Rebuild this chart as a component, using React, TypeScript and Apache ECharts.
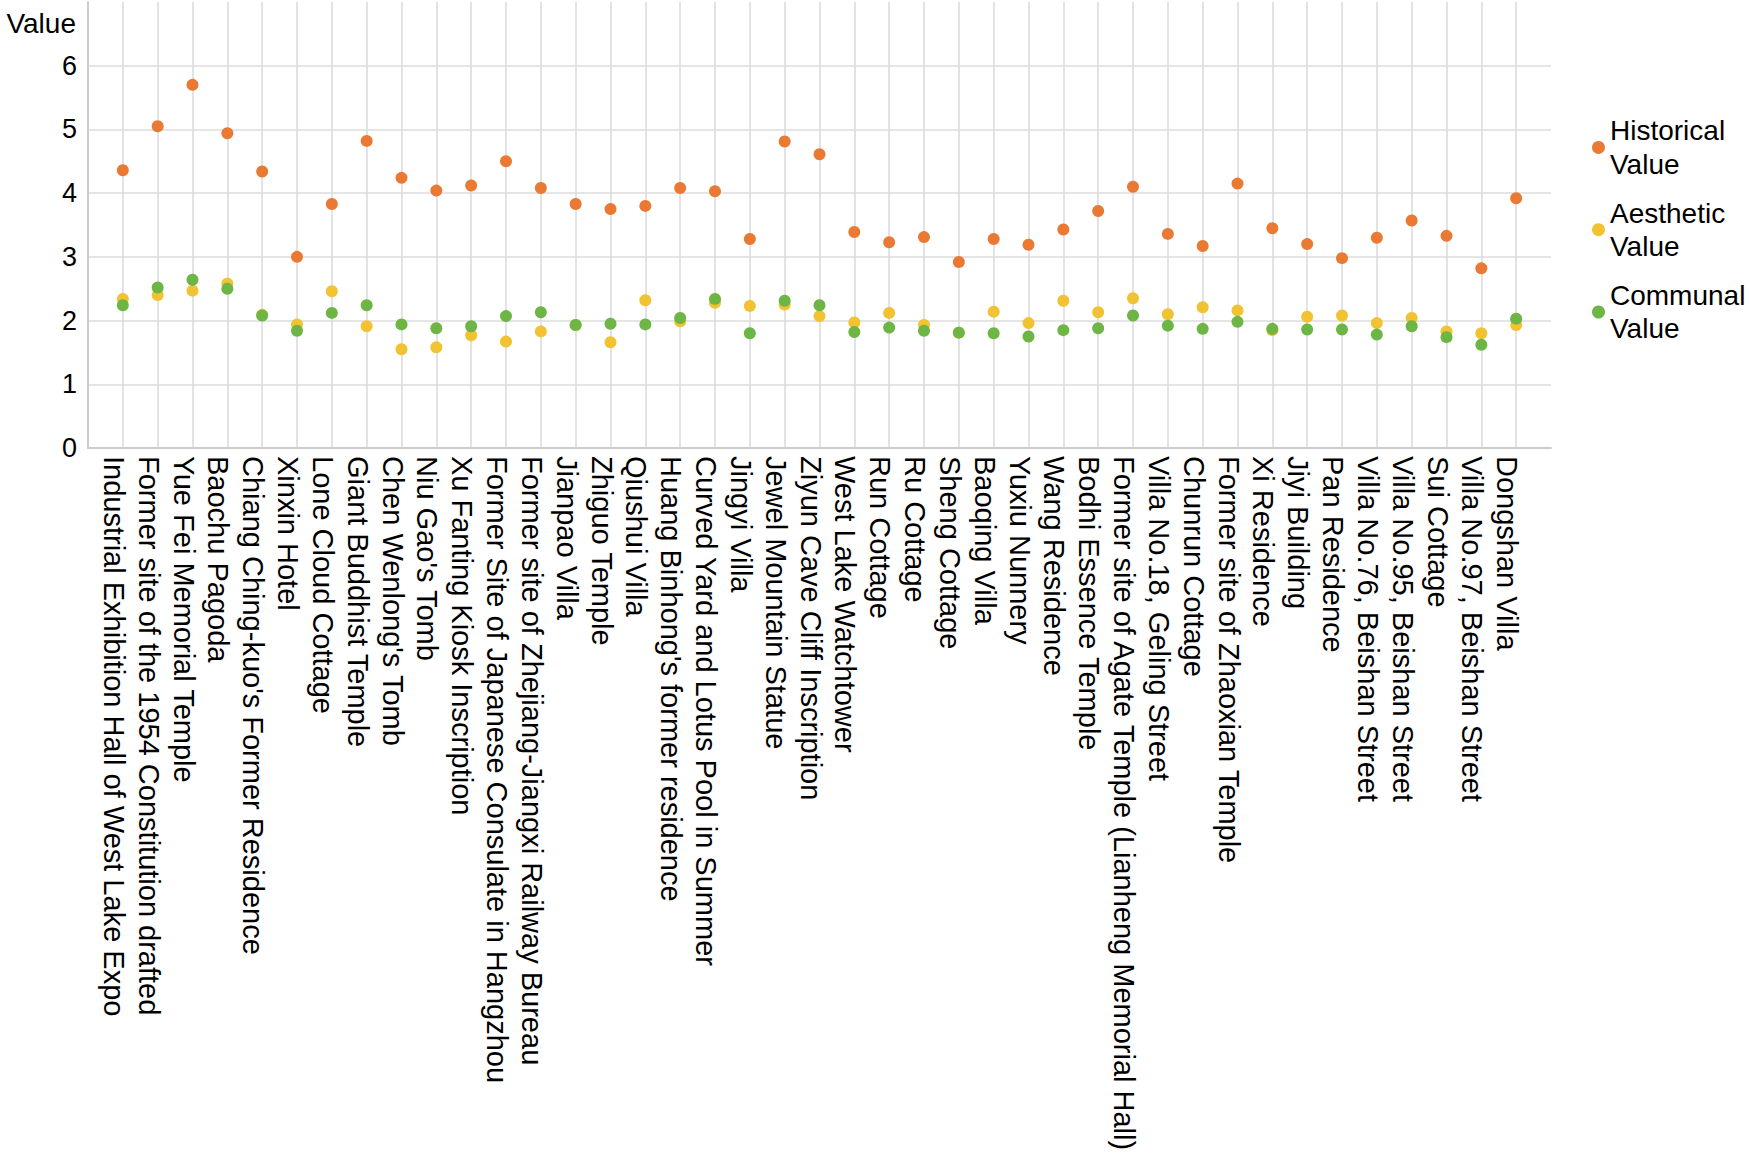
import React, { useEffect, useRef } from "react";
import * as echarts from "echarts";

const categories: string[] = [
  "Industrial Exhibition Hall of West Lake Expo",
  "Former site of the 1954 Constitution drafted",
  "Yue Fei Memorial Temple",
  "Baochu Pagoda",
  "Chiang Ching-kuo's Former Residence",
  "Xinxin Hotel",
  "Lone Cloud Cottage",
  "Giant Buddhist Temple",
  "Chen Wenlong's Tomb",
  "Niu Gao's Tomb",
  "Xu Fanting Kiosk Inscription",
  "Former Site of Japanese Consulate in Hangzhou",
  "Former site of Zhejiang-Jiangxi Railway Bureau",
  "Jianpao Villa",
  "Zhiguo Temple",
  "Qiushui Villa",
  "Huang Binhong's former residence",
  "Curved Yard and Lotus Pool in Summer",
  "Jingyi Villa",
  "Jewel Mountain Statue",
  "Ziyun Cave Cliff Inscription",
  "West Lake Watchtower",
  "Run Cottage",
  "Ru Cottage",
  "Sheng Cottage",
  "Baoqing Villa",
  "Yuxiu Nunnery",
  "Wang Residence",
  "Bodhi Essence Temple",
  "Former site of Agate Temple (Lianheng Memorial Hall)",
  "Villa No.18, Geling Street",
  "Chunrun Cottage",
  "Former site of Zhaoxian Temple",
  "Xi Residence",
  "Jiyi Building",
  "Pan Residence",
  "Villa No.76, Beishan Street",
  "Villa No.95, Beishan Street",
  "Sui Cottage",
  "Villa No.97, Beishan Street",
  "Dongshan Villa",
];

const historicalValues: number[] = [
  4.36, 5.05, 5.7, 4.94, 4.34, 3.0, 3.83, 4.82, 4.24, 4.04,
  4.12, 4.5, 4.08, 3.83, 3.75, 3.8, 4.08, 4.03, 3.28, 4.81,
  4.61, 3.39, 3.23, 3.31, 2.92, 3.28, 3.19, 3.43, 3.72, 4.1,
  3.36, 3.17, 4.15, 3.45, 3.2, 2.98, 3.3, 3.57, 3.33, 2.82, 3.92,
];

const aestheticValues: number[] = [
  2.34, 2.4, 2.47, 2.58, 2.09, 1.94, 2.46, 1.91, 1.55, 1.58,
  1.77, 1.67, 1.83, 1.93, 1.66, 2.32, 1.99, 2.28, 2.23, 2.25,
  2.07, 1.97, 2.12, 1.93, 1.81, 2.14, 1.96, 2.31, 2.13, 2.35,
  2.1, 2.21, 2.16, 1.85, 2.06, 2.08, 1.96, 2.04, 1.83, 1.8, 1.93,
];

const communalValues: number[] = [
  2.24, 2.52, 2.64, 2.5, 2.08, 1.84, 2.12, 2.24, 1.94, 1.88,
  1.91, 2.07, 2.13, 1.93, 1.95, 1.94, 2.04, 2.34, 1.8, 2.31,
  2.24, 1.82, 1.89, 1.84, 1.81, 1.8, 1.75, 1.85, 1.88, 2.08,
  1.92, 1.87, 1.98, 1.87, 1.86, 1.86, 1.78, 1.91, 1.74, 1.62, 2.03,
];

const seriesNames: string[] = ["Historical Value", "Aesthetic Value", "Communal Value"];
const seriesColors: string[] = ["#EA7A33", "#F1C232", "#6DB544"];

const FONT = "'Liberation Sans', Arial, Helvetica, sans-serif";

export default function App() {
  const ref = useRef<HTMLDivElement>(null);

  useEffect(() => {
    if (!ref.current) return;
    const chart = echarts.init(ref.current, null, { renderer: "svg" });
    const toPoints = (vals: number[]) => vals.map((v, i) => [i + 1, v]);
    const gridLine = { color: "#dcdcdc", width: 1.6 };
    const axisLineStyle = { color: "#cccccc", width: 2 };
    const allValues = [historicalValues, aestheticValues, communalValues];

    chart.setOption({
      animation: false,
      backgroundColor: "#ffffff",
      textStyle: { fontFamily: FONT, color: "#000" },
      grid: { left: 88, top: 2, width: 1463, height: 446, containLabel: false },
      xAxis: {
        type: "value",
        min: 0,
        max: categories.length + 1,
        interval: 1,
        axisLine: { show: true, lineStyle: axisLineStyle },
        axisTick: { show: false },
        splitLine: { show: true, showMinLine: false, showMaxLine: false, lineStyle: gridLine },
        axisLabel: {
          rotate: -90,
          margin: 8,
          fontSize: 29,
          color: "#000",
          fontFamily: FONT,
          verticalAlign: "top",
          lineHeight: 18,
          formatter: (v: number) => categories[Math.round(v) - 1] ?? "",
        },
      },
      yAxis: {
        type: "value",
        min: 0,
        max: 7,
        interval: 1,
        name: "Value",
        nameLocation: "end",
        nameGap: -21,
        nameTextStyle: {
          fontSize: 28,
          color: "#000",
          fontFamily: FONT,
          align: "right",
          verticalAlign: "middle",
          padding: [0, 12, 0, 0],
        },
        axisLine: { show: true, lineStyle: axisLineStyle },
        axisTick: { show: false },
        axisLabel: { fontSize: 27, color: "#000", margin: 11, showMaxLabel: false, fontFamily: FONT },
        splitLine: { show: true, showMaxLine: false, lineStyle: gridLine },
      },
      legend: {
        orient: "vertical",
        left: 1592,
        top: 114,
        padding: 0,
        itemGap: 15.5,
        itemWidth: 13,
        itemHeight: 13,
        icon: "circle",
        data: seriesNames,
        formatter: (name: string) => name.replace(" ", "\n"),
        textStyle: { fontSize: 28, lineHeight: 33.4, color: "#000", fontFamily: FONT },
      },
      series: seriesNames.map((name, k) => ({
        name,
        type: "scatter",
        symbol: "circle",
        symbolSize: 12,
        itemStyle: { color: seriesColors[k], opacity: 1 },
        data: toPoints(allValues[k]),
      })),
    });

    return () => chart.dispose();
  }, []);

  return (
    <div
      ref={ref}
      style={{ position: "fixed", left: 0, top: 0, width: 1750, height: 1160, background: "#ffffff" }}
    />
  );
}
